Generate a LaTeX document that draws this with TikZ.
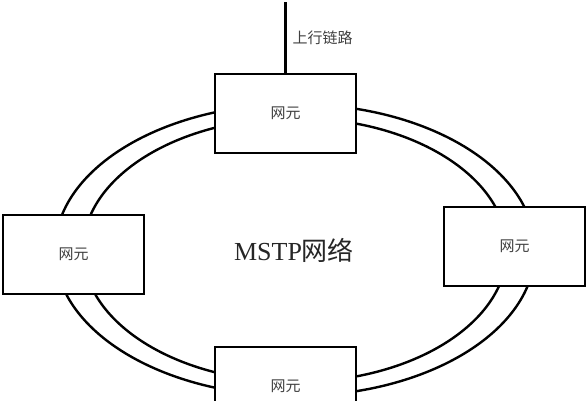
\documentclass[tikz,border=0pt]{standalone}
\usepackage{fontspec}
\setmainfont{Liberation Serif}
\newfontfamily\cjk{Noto Sans CJK SC}
\usetikzlibrary{positioning}
\begin{document}
\begin{tikzpicture}[
x=1pt,y=-1pt,
ne/.style={
  draw,
  fill=white,
  line width=1.5pt,
  minimum width=141pt,
  minimum height=79pt,
  inner sep=0pt,
  text=black!75,
  font=\cjk\fontsize{15}{17}\selectfont
},
ring/.style={
  line width=2.4pt
}
]
\useasboundingbox (0,0) rectangle (588,400);
\clip (0,0) rectangle (588,400);
\coordinate (c) at (295,250);
\draw[ring] (c) ellipse [x radius=240, y radius=146];
\draw[ring] (c) ellipse [x radius=212, y radius=132];

\node[ne] (top) at (285.5,113.5) {网元};
\node[ne] (left) at (73.5,254.5) {网元};
\node[ne] (right) at (514.5,246.5) {网元};
\node[ne] (bottom) at (285.5,386.5) {网元};

\node[font=\fontsize{26}{30}\selectfont,text=black!85] (mstp) at (294,250) {MSTP{\cjk 网络}};

\coordinate (uplink) at (285.5,2);
\draw[line width=2.6pt] (top.north) -- (uplink);
\node[anchor=west,text=black!75,font=\cjk\fontsize{15}{17}\selectfont] (up) at (289,38) {上行链路};

\end{tikzpicture}
\end{document}
